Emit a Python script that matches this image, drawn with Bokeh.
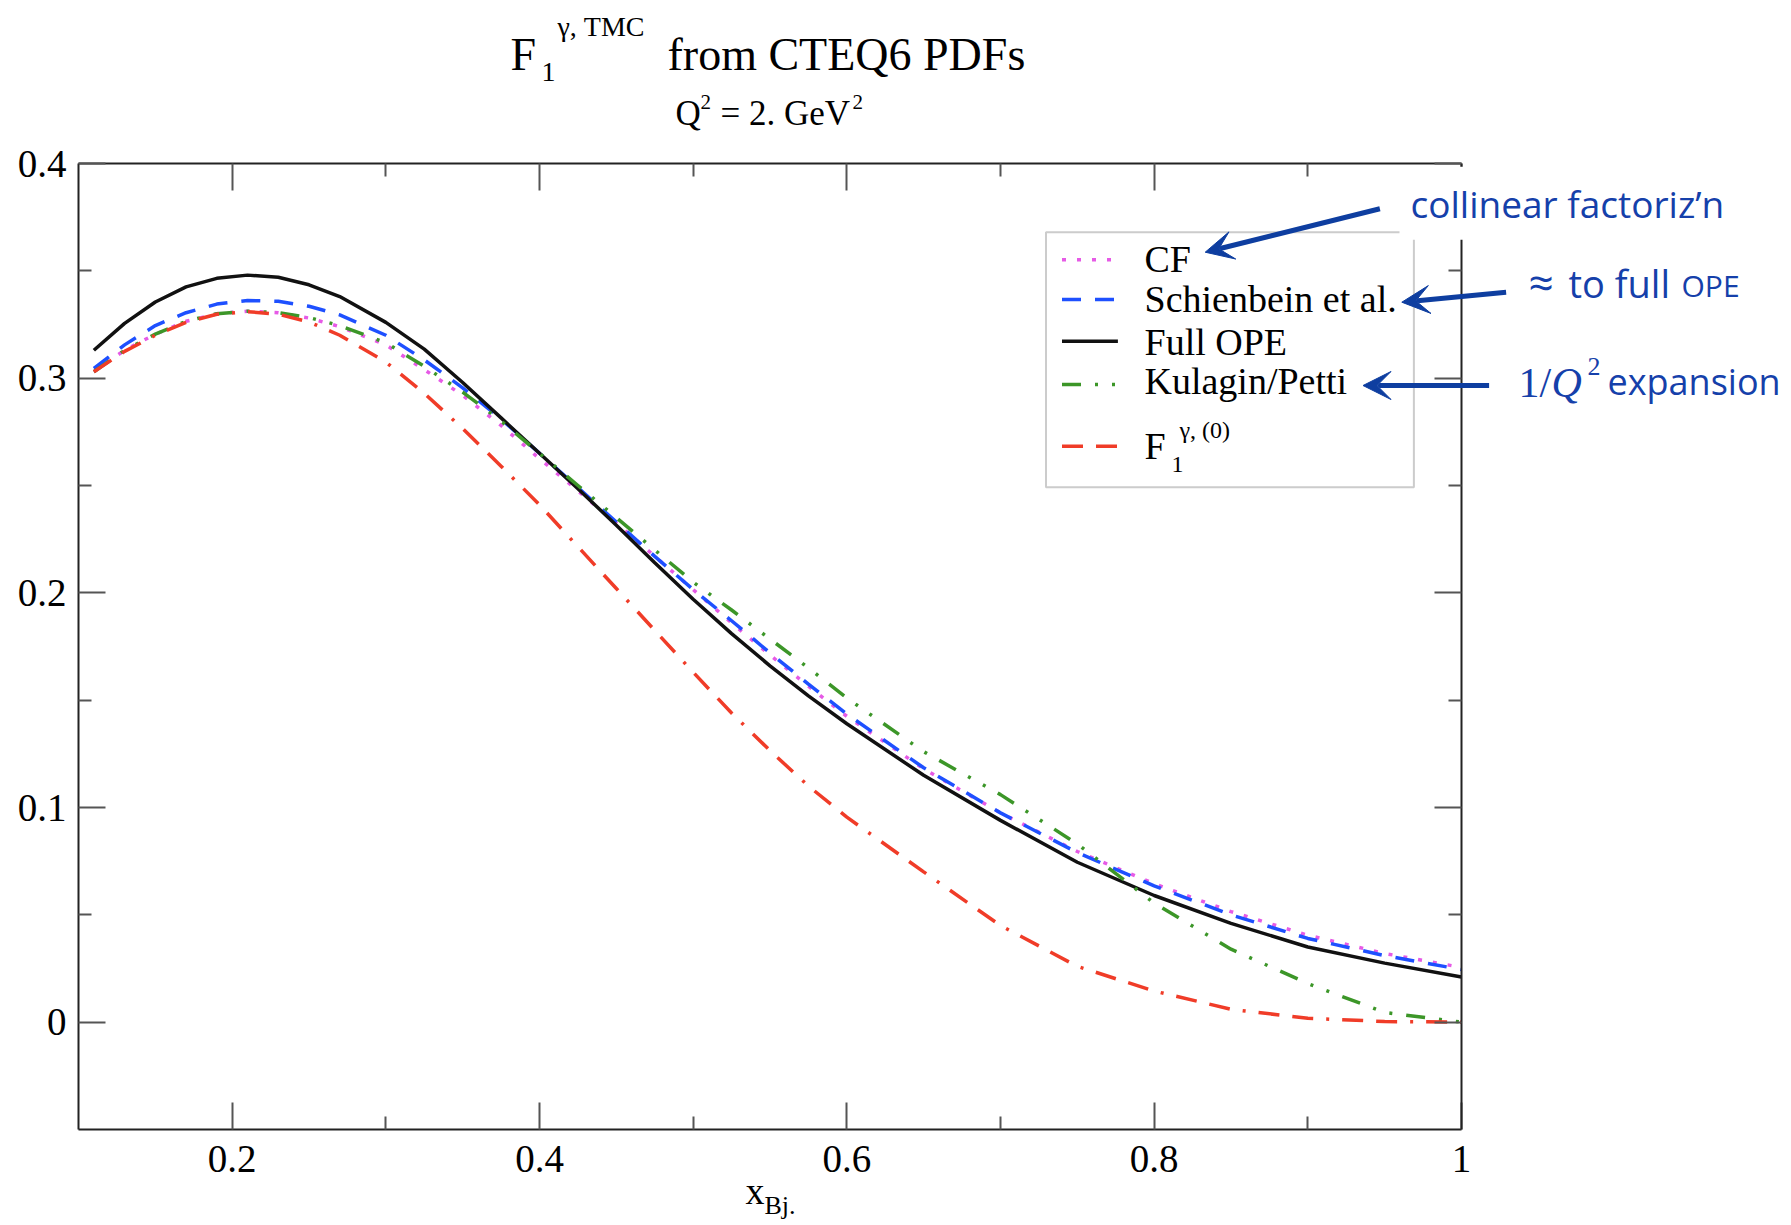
from bokeh.plotting import figure
from bokeh.models import (Range1d, LinearAxis, FixedTicker, CustomJSTickFormatter,
                          Label, Arrow, VeeHead, BoxAnnotation)
from bokeh.embed import file_html
from bokeh.resources import INLINE

# ---------------- data ----------------
x_vals = [0.11, 0.13, 0.15, 0.17, 0.19, 0.21, 0.23, 0.25, 0.27, 0.30, 0.325, 0.35,
          0.375, 0.40, 0.425, 0.45, 0.475, 0.50, 0.525, 0.55, 0.575, 0.60, 0.65,
          0.70, 0.75, 0.80, 0.85, 0.90, 0.95, 1.00]

cf = [0.303, 0.313, 0.3205, 0.3265, 0.3300, 0.3312, 0.3305, 0.3280, 0.3240, 0.3155,
      0.3040, 0.2920, 0.2780, 0.2625, 0.2475, 0.2325, 0.2170, 0.2015, 0.1860, 0.1710,
      0.1565, 0.1425, 0.1180, 0.0975, 0.0795, 0.0645, 0.0515, 0.0405, 0.0320, 0.0255]

schienbein = [0.3045, 0.3155, 0.3245, 0.3305, 0.3345, 0.3362, 0.3358, 0.3335, 0.3295,
              0.3200, 0.3085, 0.2955, 0.2810, 0.2650, 0.2490, 0.2330, 0.2170, 0.2015,
              0.1870, 0.1720, 0.1575, 0.1435, 0.1185, 0.0975, 0.0790, 0.0635, 0.0500,
              0.0390, 0.0310, 0.0245]

full_ope = [0.313, 0.3255, 0.3355, 0.3425, 0.3465, 0.3480, 0.3470, 0.3435, 0.3380,
            0.3260, 0.3135, 0.2980, 0.2815, 0.2650, 0.2485, 0.2315, 0.2140, 0.1970,
            0.1810, 0.1660, 0.1520, 0.1390, 0.1150, 0.0940, 0.0745, 0.0590, 0.0460,
            0.0350, 0.0275, 0.0210]

kulagin = [0.303, 0.313, 0.3205, 0.3265, 0.3300, 0.3312, 0.3305, 0.3282, 0.3245,
           0.3165, 0.3055, 0.2935, 0.2800, 0.2650, 0.2500, 0.2350, 0.2200, 0.2050,
           0.1920, 0.1785, 0.1650, 0.1510, 0.1260, 0.1060, 0.0830, 0.0555, 0.0340,
           0.0180, 0.0045, 0.0000]

f1_zero = [0.303, 0.3125, 0.3200, 0.3260, 0.3298, 0.3310, 0.3298, 0.3262, 0.3200,
           0.3075, 0.2930, 0.2765, 0.2590, 0.2410, 0.2215, 0.2020, 0.1825, 0.1630,
           0.1440, 0.1265, 0.1100, 0.0955, 0.0700, 0.0450, 0.0260, 0.0145, 0.0060,
           0.0018, 0.0003, 0.0000]

x_ticks = [0.2, 0.4, 0.6, 0.8, 1.0]
x_minor = [0.3, 0.5, 0.7, 0.9]
y_ticks = [0.0, 0.1, 0.2, 0.3, 0.4]
y_minor = [0.05, 0.15, 0.25, 0.35]

legend_names = ["CF", "Schienbein et al.", "Full OPE", "Kulagin/Petti", "F"]

# ---------------- styles ----------------
series = [
    (cf, "#e65ae6", "4 11", 3.5),
    (schienbein, "#1e50ff", "19 14", 3.5),
    (full_ope, "#111111", "solid", 3.5),
    (kulagin, "#3c9628", "19 14 3 14 3 14", 3.5),
    (f1_zero, "#f03c28", "21 13 21 13 3 13", 3.5),
]

X0, X1, Y0, Y1 = 0.1, 1.0, -0.05, 0.4
FL, FT, FW, FH = 78, 163, 1383, 966   # plot box position on the page (px)
W, H = 1790, 1224
SERIF, SANS = "Liberation Serif", "Open Sans"


def dx(px):
    return X0 + (px - FL) / FW * (X1 - X0)


def dy(py):
    return Y1 - (py - FT) / FH * (Y1 - Y0)


p = figure(width=W, height=H, min_border=0,
           x_range=Range1d(dx(0), dx(W)), y_range=Range1d(dy(H), dy(0)),
           x_axis_type=None, y_axis_type=None, title=None,
           output_backend="svg", toolbar_location=None)
p.outline_line_color = None
p.background_fill_color = "white"
p.border_fill_color = "white"

fmt = CustomJSTickFormatter(code="""
    if (Math.abs(tick) < 1e-9) return '0';
    if (Math.abs(tick - 1) < 1e-9) return '1';
    return tick.toFixed(1);
""")

for loc, ticks, minor, horiz, fixed in [("below", x_ticks, x_minor, True, Y0),
                                        ("above", x_ticks, x_minor, True, Y1),
                                        ("left", y_ticks, y_minor, False, X0),
                                        ("right", y_ticks, y_minor, False, X1)]:
    ax = LinearAxis(ticker=FixedTicker(ticks=ticks, minor_ticks=minor), formatter=fmt,
                    fixed_location=fixed,
                    bounds=(X0, X1) if horiz else (Y0, Y1))
    ax.axis_line_color = "#222222"
    ax.axis_line_width = 2
    ax.major_tick_in = 27
    ax.major_tick_out = 0
    ax.minor_tick_in = 13
    ax.minor_tick_out = 0
    ax.major_tick_line_color = "#555555"
    ax.major_tick_line_width = 2
    ax.minor_tick_line_color = "#555555"
    ax.minor_tick_line_width = 2
    ax.major_label_text_font = SERIF
    ax.major_label_text_font_size = "39px"
    ax.major_label_text_color = "black"
    ax.major_label_standoff = 16 if horiz else 12
    if loc in ("above", "right"):
        ax.major_label_text_font_size = "0px"
        ax.major_label_text_alpha = 0
        ax.major_label_standoff = 0
    p.add_layout(ax, loc)

# curves
for ys, col, dash, w in series:
    p.line(x_vals, ys, line_color=col, line_width=w, line_dash=dash)


def lab(px, py, text, size, font=SERIF, color="black", style="normal", **kw):
    k = 0.38 if font == SANS else 0.34
    py = py - k * size
    p.add_layout(Label(x=dx(px), y=dy(py), text=text, text_font=font,
                       text_font_size=f"{size}px", text_color=color,
                       text_font_style=style, text_baseline="alphabetic", **kw))


# legend box
p.add_layout(BoxAnnotation(left=dx(1045.5), right=dx(1413.4), top=dy(231.7), bottom=dy(486.7),
                           fill_color="white", fill_alpha=1.0, line_color="#555555",
                           line_width=2, level="underlay"))
leg_line_y = [259.3, 299.0, 340.7, 384.0, 445.7]
leg_text_y = [271.7, 311.7, 354.0, 393.3, 458.3]
for (ys, col, dash, w), name, ly, ty in zip(series, legend_names, leg_line_y, leg_text_y):
    p.line([dx(1061.5), dx(1117.4)], [dy(ly), dy(ly)], line_color=col, line_width=w, line_dash=dash)
    lab(1144, ty, name, 38)
lab(1171, 472, "1", 24)
lab(1179, 438, "\u03b3, (0)", 24)

# title
lab(510, 70, "F", 46)
lab(541, 81, "1", 28)
lab(557, 36, "\u03b3, TMC", 28)
lab(667, 70, "from CTEQ6 PDFs", 46)
# subtitle
lab(675, 125, "Q", 35)
lab(700, 109, "2", 21)
lab(720, 125, "= 2. GeV", 35)
lab(852, 109, "2", 21)
# x axis title
lab(745, 1203, "x", 38)
lab(764, 1214, "Bj.", 26)

# blue annotations
BLUE_T = "#1540aa"
BLUE_A = "#0e3ea0"
lab(1399, 216.7, "collinear factoriz\u2019n", 37, font=SANS, color=BLUE_T,
    background_fill_color="white", background_fill_alpha=1.0, padding=11)
lab(1528, 298, "\u2248", 44, font=SANS, color=BLUE_T)
lab(1568, 296.7, "to full", 38, font=SANS, color=BLUE_T)
lab(1681, 296.7, "OPE", 30, font=SANS, color=BLUE_T)
lab(1518, 396.7, "1/", 42, color=BLUE_T)
lab(1551, 396.7, "Q", 42, color=BLUE_T, style="italic")
lab(1587, 375, "2", 26, color=BLUE_T)
lab(1607, 395, "expansion", 36, font=SANS, color=BLUE_T)

for (x_s, y_s, x_e, y_e) in [(1379.4, 208.3, 1204.7, 251.7),
                             (1505.6, 291.7, 1401.3, 301.7),
                             (1488.6, 385.0, 1362.5, 385.0)]:
    p.add_layout(Arrow(x_start=dx(x_s), y_start=dy(y_s), x_end=dx(x_e), y_end=dy(y_e),
                       line_color=BLUE_A, line_width=5,
                       end=VeeHead(size=28, fill_color=BLUE_A, line_color=BLUE_A)))

open("out.html", "w").write(file_html(p, INLINE))
